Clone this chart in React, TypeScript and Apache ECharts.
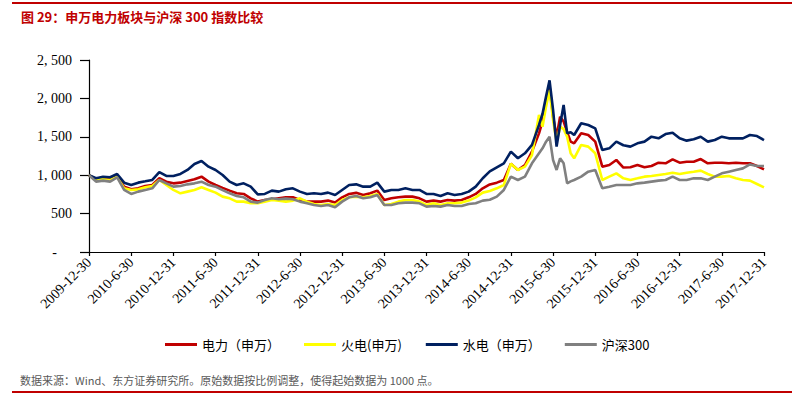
import React, { useEffect, useRef } from 'react';
import * as echarts from 'echarts';

const titleText = '图 29：申万电力板块与沪深 300 指数比较';
const footerText = '数据来源：Wind、东方证券研究所。原始数据按比例调整，使得起始数据为 1000 点。';

const xTickLabels = [
  '2009-12-30', '2010-6-30', '2010-12-31', '2011-6-30', '2011-12-31', '2012-6-30',
  '2012-12-31', '2013-6-30', '2013-12-31', '2014-6-30', '2014-12-31', '2015-6-30',
  '2015-12-31', '2016-6-30', '2016-12-31', '2017-6-30', '2017-12-31',
];

const seriesNames = ['电力（申万）', '火电(申万)', '水电（申万）', '沪深300'];
const seriesColors = ['#C00000', '#FFFF00', '#002060', '#808080'];

// months elapsed since 2009-12-30
const months = [
  0, 1, 2, 3, 4, 5, 6, 7, 8, 9,
  10, 11, 12, 13, 14, 15, 16, 17, 18, 19,
  20, 21, 22, 23, 24, 25, 26, 27, 28, 29,
  30, 31, 32, 33, 34, 35, 36, 37, 38, 39,
  40, 41, 42, 43, 44, 45, 46, 47, 48, 49,
  50, 51, 52, 53, 54, 55, 56, 57, 58, 59,
  60, 61, 62, 63, 64,
  64.5, 65, 65.5, 66, 66.5, 67, 67.5, 68, 68.5,
  69, 70, 71, 72, 73, 74, 75, 76, 77, 78, 79,
  80, 81, 82, 83, 84, 85, 86, 87, 88, 89,
  90, 91, 92, 93, 94, 95, 96,
];

const power = [
  1000, 947, 960, 950, 990, 851, 816, 829, 860, 873,
  960, 916, 894, 903, 925, 947, 981, 916, 873, 835,
  799, 764, 756, 699, 656, 677, 686, 699, 712, 712,
  677, 656, 656, 656, 669, 643, 712, 756, 770, 743,
  764, 799, 677, 699, 712, 721, 721, 699, 656, 669,
  656, 677, 669, 677, 712, 756, 829, 880, 903, 938,
  1150, 1068, 1133, 1307, 1545,
  1700, 1979, 2160, 1762, 1502, 1762, 1700, 1560, 1437,
  1415, 1545, 1524, 1437, 1111, 1133, 1198, 1100, 1103, 1133, 1103,
  1120, 1163, 1155, 1207, 1163, 1176, 1176, 1210, 1155, 1163,
  1163, 1155, 1163, 1155, 1155, 1120, 1076,
];

const thermal = [
  1000, 947, 947, 938, 981, 829, 808, 816, 842, 860,
  938, 873, 808, 764, 786, 808, 842, 808, 773, 721,
  699, 656, 656, 634, 634, 656, 677, 669, 656, 669,
  699, 656, 625, 612, 625, 612, 677, 712, 721, 712,
  730, 756, 612, 625, 656, 677, 677, 656, 612, 634,
  612, 634, 634, 643, 669, 712, 773, 795, 829, 873,
  1150, 1068, 1111, 1263, 1784,
  1632, 1893, 2110, 1719, 1437, 1632, 1600, 1502, 1285,
  1220, 1394, 1372, 1285, 938, 981, 1024, 959, 938, 959, 981,
  990, 1003, 1016, 1033, 1016, 1033, 1046, 1060, 1016, 981,
  981, 990, 959, 938, 929, 886, 842,
];

const hydro = [
  1000, 960, 980, 973, 1015, 903, 873, 903, 920, 938,
  1040, 990, 990, 1016, 1068, 1146, 1185, 1111, 1068, 1003,
  916, 873, 894, 851, 750, 756, 799, 786, 816, 829,
  786, 756, 764, 756, 773, 743, 808, 873, 881, 851,
  851, 903, 786, 808, 808, 829, 808, 808, 756, 756,
  730, 764, 743, 756, 786, 851, 960, 1050, 1103, 1155,
  1307, 1220, 1285, 1394, 1654,
  1800, 2023, 2235, 1849, 1372, 1654, 1914, 1545, 1560,
  1524, 1676, 1654, 1610, 1328, 1350, 1437, 1390, 1372, 1415, 1437,
  1502, 1480, 1536, 1554, 1480, 1450, 1467, 1500, 1437, 1458,
  1502, 1480, 1480, 1480, 1523, 1510, 1458,
];

const csi300 = [
  1000, 916, 929, 916, 973, 808, 756, 786, 808, 829,
  938, 894, 851, 860, 881, 894, 916, 873, 851, 805,
  764, 730, 712, 656, 643, 677, 699, 686, 695, 686,
  656, 634, 612, 599, 612, 582, 656, 712, 730, 699,
  712, 743, 612, 612, 634, 643, 643, 634, 591, 599,
  591, 612, 599, 599, 625, 634, 669, 680, 721, 808,
  981, 938, 981, 1155, 1285,
  1350, 1437, 1502, 1198, 1068, 1220, 1155, 894, 920,
  938, 981, 1046, 1068, 829, 850, 873, 873, 872, 894, 903,
  916, 929, 938, 981, 938, 938, 959, 959, 938, 981,
  1024, 1046, 1068, 1089, 1140, 1120, 1120,
];

const seriesValues = [power, thermal, hydro, csi300];

const serif = '"Liberation Serif", "DejaVu Serif", serif';
const cjk = '"Noto Sans CJK SC", "Noto Sans", sans-serif';

function fmtY(v: number): string {
  if (v === 0) return '{d|-}';
  const s = String(Math.round(v));
  if (s.length <= 3) return s;
  return s.slice(0, s.length - 3) + ', ' + s.slice(s.length - 3);
}

export default function App() {
  const ref = useRef<HTMLDivElement>(null);
  useEffect(() => {
    if (!ref.current) return;
    const chart = echarts.init(ref.current, null, { renderer: 'svg' });
    chart.setOption({
      animation: false,
      backgroundColor: '#ffffff',
      grid: { left: 89, right: 40, top: 60, bottom: 145, containLabel: false },
      xAxis: {
        type: 'value',
        min: 0,
        max: 96,
        interval: 6,
        splitLine: { show: false },
        axisLine: { show: true, lineStyle: { color: '#000', width: 1.2 } },
        axisTick: { show: true, inside: false, length: 4, lineStyle: { color: '#000', width: 1.2 } },
        axisLabel: {
          rotate: 45,
          margin: 8,
          color: '#000',
          fontFamily: serif,
          fontSize: 14,
          formatter: (v: number) => xTickLabels[Math.round(v / 6)] ?? '',
        },
      },
      yAxis: {
        type: 'value',
        min: 0,
        max: 2500,
        interval: 500,
        splitLine: { show: false },
        axisLine: { show: true, lineStyle: { color: '#000', width: 1.2 } },
        axisTick: { show: true, inside: false, length: 9, lineStyle: { color: '#000', width: 1.2 } },
        axisLabel: {
          margin: 17,
          color: '#000',
          fontFamily: serif,
          fontSize: 14,
          formatter: fmtY,
          rich: { d: { fontFamily: serif, fontSize: 14, color: '#000', padding: [0, 15, 0, 0] } },
        },
      },
      legend: {
        left: 160,
        top: 333,
        icon: 'rect',
        itemWidth: 32,
        itemHeight: 3,
        itemGap: 24,
        textStyle: { fontFamily: cjk, fontSize: 13, color: '#000' },
        data: seriesNames,
      },
      series: seriesNames.map((name, i) => ({
        name,
        type: 'line',
        data: months.map((m, j) => [m, seriesValues[i][j]]),
        showSymbol: false,
        symbol: 'none',
        lineStyle: { color: seriesColors[i], width: 2.6 },
        itemStyle: { color: seriesColors[i] },
        z: 2 + i,
      })),
      graphic: [
        { type: 'rect', shape: { x: 12, y: 2, width: 780, height: 2 }, style: { fill: '#C00000' } },
        {
          type: 'text',
          x: 21,
          y: 16,
          style: {
            text: titleText,
            fill: '#C00000',
            font: 'bold 13px "Noto Sans CJK SC", sans-serif',
            verticalAlign: 'middle',
          },
        },
        {
          type: 'text',
          x: 20,
          y: 380,
          style: {
            text: footerText,
            fill: '#595959',
            font: '11px "Noto Sans CJK SC", sans-serif',
            verticalAlign: 'middle',
          },
        },
        { type: 'rect', shape: { x: 12, y: 391, width: 780, height: 2 }, style: { fill: '#C00000' } },
      ],
    });
    return () => chart.dispose();
  }, []);
  return (
    <div
      ref={ref}
      style={{ position: 'fixed', left: 0, top: 0, width: 804, height: 397, background: '#fff' }}
    />
  );
}
